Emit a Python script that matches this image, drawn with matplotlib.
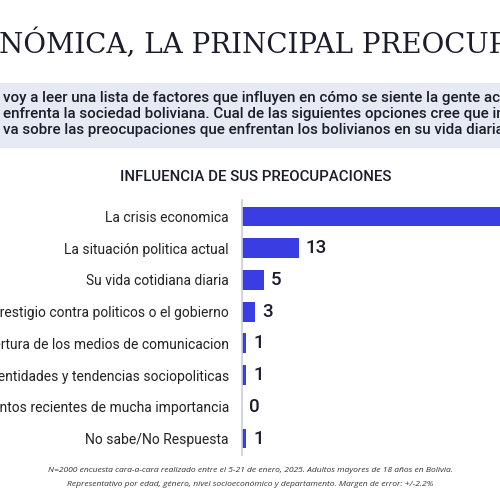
import matplotlib.pyplot as plt
from matplotlib.patches import Rectangle

categories = [
    "La crisis economica",
    "La situación politica actual",
    "Su vida cotidiana diaria",
    "Desprestigio contra politicos o el gobierno",
    "La cobertura de los medios de comunicacion",
    "Las identidades y tendencias sociopoliticas",
    "Los eventos recientes de mucha importancia",
    "No sabe/No Respuesta",
]
values = [76, 13, 5, 3, 1, 1, 0, 1]

title = "NÓMICA, LA PRINCIPAL PREOCUPACIÓN"
question = [
    "voy a leer una lista de factores que influyen en cómo se siente la gente acerca de los problemas",
    "enfrenta la sociedad boliviana. Cual de las siguientes opciones cree que influye de manera más",
    "va sobre las preocupaciones que enfrentan los bolivianos en su vida diaria?",
]
chart_title = "INFLUENCIA DE SUS PREOCUPACIONES"
footnote = [
    "N=2000 encuesta cara-a-cara realizado entre el 5-21 de enero, 2025. Adultos mayores de 18 años en Bolivia.",
    "Representativo por edad, género, nivel socioeconómico y departamento. Margen de error: +/-2.2%",
]

bar_color = "#3a3ee2"
text_color = "#1c1c2a"

fig = plt.figure(figsize=(5, 5), dpi=100)
fig.patch.set_facecolor("white")

# header
fig.text(-0.002, 0.912, title, family="DejaVu Serif", fontsize=20,
         color=text_color, va="center", ha="left")
fig.patches.append(Rectangle((0, 1 - 148 / 500), 1, 65 / 500,
                             transform=fig.transFigure, facecolor="#e5eaf3",
                             edgecolor="none", zorder=0))
for i, line in enumerate(question):
    fig.text(0.006, 1 - (98 + i * 16) / 500, line, family="Roboto",
             weight="medium", fontsize=10.9, color=text_color, va="center")

fig.text(0.512, 1 - 177 / 500, chart_title, family="Roboto", weight="medium",
         fontsize=10.8, color=text_color, ha="center", va="center")

# bars
ax = fig.add_axes([242 / 500, 45 / 500, 262 / 500, 255 / 500])
pos = range(len(categories))
ax.barh(pos, values, height=0.63, color=bar_color)
ax.set_xlim(0, 60)
ax.set_ylim(7.52, -0.52)
ax.set_yticks(list(pos))
ax.set_yticklabels(categories, family="Roboto", fontsize=10, color="#222222")
ax.tick_params(axis="y", length=0, pad=9.5)
ax.set_xticks([])
for s in ["top", "right", "bottom"]:
    ax.spines[s].set_visible(False)
ax.spines["left"].set_color("#c8cee0")
ax.spines["left"].set_linewidth(1.2)

for i, v in enumerate(values):
    ax.annotate(str(v), (v, i), xytext=(5, 0), textcoords="offset points",
                family="Roboto", weight="medium", fontsize=13.5,
                color=text_color, va="center", ha="left")

for i, line in enumerate(footnote):
    fig.text(0.5, 1 - (470 + i * 14) / 500, line, family="Open Sans",
             style="italic", fontsize=6.1, color="#333333", ha="center",
             va="center")

fig.savefig("out.png", dpi=100)
